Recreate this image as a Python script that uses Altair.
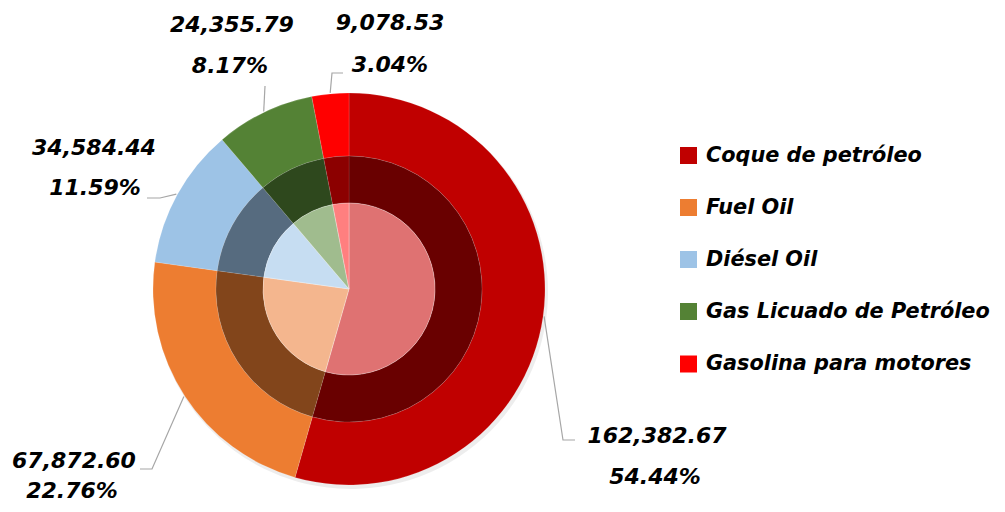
import altair as alt
import pandas as pd
import numpy as np

# ---- data ----
categories = ["Coque de petróleo", "Fuel Oil", "Diésel Oil",
              "Gas Licuado de Petróleo", "Gasolina para motores"]
values = [162382.67, 67872.60, 34584.44, 24355.79, 9078.53]
value_labels = ["162,382.67", "67,872.60", "34,584.44", "24,355.79", "9,078.53"]
pct_labels = ["54.44%", "22.76%", "11.59%", "8.17%", "3.04%"]

# ---- styles ----
outer_colors = ["#C00000", "#ED7D31", "#9DC3E6", "#548235", "#FF0000"]
middle_colors = ["#690000", "#82451B", "#566B7F", "#2E481D", "#8C0000"]
inner_colors = ["#DF7272", "#F4B68E", "#C6DDF2", "#A0BC8E", "#FF7F7F"]

# ---- layout (chart pixel coords) ----
W, H = 989, 496
CX, CY = 341, 281
R_OUT, R_MID, R_IN = 196, 133, 86
FONT = "DejaVu Sans"
LABEL_SIZE = 22
val_x = [649, 66, 86, 224, 382]
val_y = [428, 453, 140, 17, 15]
pct_x = [647, 64, 87, 222, 382]
pct_y = [469, 483, 180, 58, 57]
elbow = [(555, 432), (144, 461), (152, 190), (257, 78), (324, 65)]
lead_end = [(567, 432), (132, 461), (139, 190), (257, 78), (335, 65)]
legend_x_sq, legend_x_txt = 680.5, 698
legend_y = [147.5, 199.5, 251.5, 303.5, 356]

df = pd.DataFrame({
    "cat": categories, "value": values, "idx": range(5),
    "outer": outer_colors, "middle": middle_colors, "inner": inner_colors,
})

base = alt.Chart(df).encode(
    theta=alt.Theta("value:Q", stack=True),
    order=alt.Order("idx:Q", sort="ascending"),
)
center = dict(x=alt.value(CX), y=alt.value(CY))

shadow = alt.Chart(df).mark_arc(radius=R_OUT + 1, color="#000000", opacity=0.07).encode(
    theta=alt.Theta("value:Q", stack=True), order=alt.Order("idx:Q"),
    x=alt.value(CX + 2), y=alt.value(CY + 3))
outer = base.mark_arc(radius=R_OUT, radius2=R_MID, stroke="white",
                      strokeWidth=0.5, strokeOpacity=0.3).encode(
    color=alt.Color("outer:N", scale=None), **center)
middle = base.mark_arc(radius=R_MID, radius2=R_IN, stroke="white",
                       strokeWidth=0.5, strokeOpacity=0.2).encode(
    color=alt.Color("middle:N", scale=None), **center)
inner = base.mark_arc(radius=R_IN, radius2=0, stroke="white",
                      strokeWidth=0.6, strokeOpacity=0.5).encode(
    color=alt.Color("inner:N", scale=None), **center)

# leader lines: start on outer edge at each slice's mid-angle
vals = np.array(values)
cum = np.cumsum(vals)
mid = (cum - vals / 2) / vals.sum() * 2 * np.pi
rows = []
for i in range(5):
    sx = CX + (R_OUT + 1) * np.sin(mid[i])
    sy = CY - (R_OUT + 1) * np.cos(mid[i])
    for k, (px, py) in enumerate([(sx, sy), elbow[i], lead_end[i]]):
        rows.append({"cat": categories[i], "k": k, "px": px, "py": py})
lead_df = pd.DataFrame(rows)
leaders = alt.Chart(lead_df).mark_line(color="#A6A6A6", strokeWidth=1.2).encode(
    x=alt.X("px:Q", scale=None), y=alt.Y("py:Q", scale=None),
    detail="cat:N", order="k:Q")

lab_df = pd.DataFrame({
    "vl": value_labels, "pl": pct_labels,
    "vx": val_x, "vy": val_y, "px": pct_x, "py": pct_y,
})
txt = dict(font=FONT, fontSize=LABEL_SIZE, fontWeight="bold", fontStyle="italic",
           color="#000000", baseline="middle", align="center")
vlab = alt.Chart(lab_df).mark_text(**txt).encode(
    x=alt.X("vx:Q", scale=None), y=alt.Y("vy:Q", scale=None), text="vl:N")
plab = alt.Chart(lab_df).mark_text(**txt).encode(
    x=alt.X("px:Q", scale=None), y=alt.Y("py:Q", scale=None), text="pl:N")

leg_df = pd.DataFrame({"cat": categories, "col": outer_colors, "ly": legend_y})
leg_sq = alt.Chart(leg_df).mark_square(size=289, opacity=1).encode(
    x=alt.value(legend_x_sq), y=alt.Y("ly:Q", scale=None),
    color=alt.Color("col:N", scale=None))
leg_txt = alt.Chart(leg_df).mark_text(font=FONT, fontSize=20.8, fontWeight="bold",
                                      fontStyle="italic", align="left",
                                      baseline="middle", color="#000000").encode(
    x=alt.value(legend_x_txt), y=alt.Y("ly:Q", scale=None), text="cat:N")

chart = alt.layer(shadow, outer, middle, inner, leaders, vlab, plab, leg_sq, leg_txt).properties(
    width=W, height=H, autosize="none", padding=0
).configure_view(stroke=None)

chart.save("out.html", embed_options={"renderer": "svg", "actions": False})
